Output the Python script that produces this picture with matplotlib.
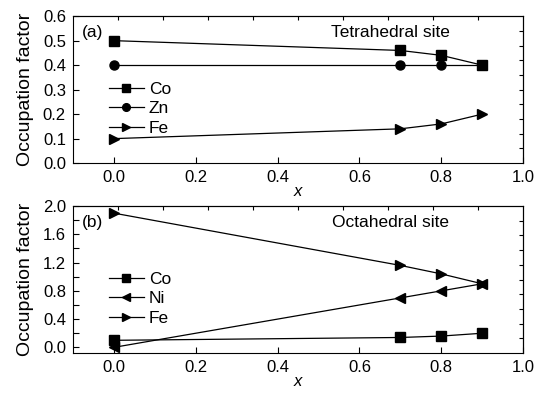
import numpy as np
import matplotlib
matplotlib.use('Agg')
from matplotlib import pyplot as plt

plt.rcParams['font.family'] = ['Liberation Sans', 'DejaVu Sans']
matplotlib.rc('xtick', labelsize=12)
matplotlib.rc('ytick', labelsize=12)

x = [0.0, 0.7, 0.8, 0.9]

# tetrahedral site
tet_co = [0.50, 0.46, 0.44, 0.40]
tet_zn = [0.40, 0.40, 0.40, 0.40]
tet_fe = [0.10, 0.14, 0.16, 0.20]

# octahedral site
oct_co = [0.10, 0.14, 0.16, 0.20]
oct_ni = [0.00, 0.70, 0.80, 0.90]
oct_fe = [1.90, 1.16, 1.04, 0.90]

fig = plt.figure(figsize=(5.36, 3.94), dpi=100)
ax1 = fig.add_axes([0.136, 0.586, 0.840, 0.373])
ax2 = fig.add_axes([0.136, 0.104, 0.840, 0.373])

mk = dict(color='black', lw=0.9, markersize=6.5)
ax1.plot(x, tet_co, marker='s', label='Co', **mk)
ax1.plot(x, tet_zn, marker='o', label='Zn', **mk)
ax1.plot(x, tet_fe, marker='>', label='Fe', **mk)

ax2.plot(x, oct_co, marker='s', label='Co', **mk)
ax2.plot(x, oct_ni, marker='<', label='Ni', **mk)
ax2.plot(x, oct_fe, marker='>', label='Fe', **mk)

ax1.set_ylim(0, 0.6)
ax1.set_yticks(np.arange(0, 0.61, 0.1))
ax2.set_ylim(-0.08, 2.0)
ax2.set_yticks(np.arange(0, 2.01, 0.4))
ax2.set_yticks(np.arange(0.2, 2.0, 0.4), minor=True)

for ax in (ax1, ax2):
  ax.set_xlim(-0.1, 1.0)
  ax.set_xticks(np.arange(0, 1.01, 0.2))
  ax.set_xticklabels(['%.1f' % v for v in np.arange(0, 1.01, 0.2)])
  ax.set_yticklabels(['%.1f' % v for v in ax.get_yticks()])
  ax.tick_params(direction='in', length=4, width=0.8, pad=5)
  ax.tick_params(which='minor', direction='in', length=4, width=0.8)
  ax.set_ylabel('Occupation factor', fontsize=14, labelpad=6)
  ax.set_xlabel('x', fontsize=12, style='italic', labelpad=-1)
  for s in ax.spines.values():
    s.set_linewidth(0.8)
  # unlabelled ticks on top and right spines
  tx = ax.secondary_xaxis('top')
  tx.set_xticks(np.linspace(-0.1, 1.0, 11)[1:-1])
  tx.tick_params(direction='in', length=3, width=0.8, labeltop=False)
  lo, hi = ax.get_ylim()
  ty = ax.secondary_yaxis('right')
  ty.set_yticks(np.linspace(lo, hi, 11)[1:-1])
  ty.tick_params(direction='in', length=3, width=0.8, labelright=False)

for ax in (ax1, ax2):
  ax.legend(loc='upper left', bbox_to_anchor=(0.045, 0.66), frameon=False,
            fontsize=12.5, handlelength=2.0, handletextpad=0.3,
            labelspacing=0.25, markerscale=0.85)

ax1.text(0.02, 0.94, '(a)', transform=ax1.transAxes, fontsize=12.5, va='top')
ax2.text(0.02, 0.94, '(b)', transform=ax2.transAxes, fontsize=12.5, va='top')
ax1.text(0.705, 0.94, 'Tetrahedral site', transform=ax1.transAxes, fontsize=12.5,
         va='top', ha='center')
ax2.text(0.705, 0.94, 'Octahedral site', transform=ax2.transAxes, fontsize=12.5,
         va='top', ha='center')

plt.savefig('out.png', dpi=100)
